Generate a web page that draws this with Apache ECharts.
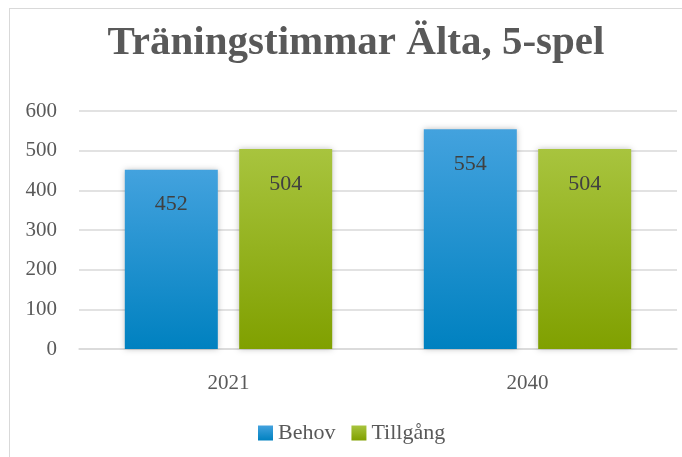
<!DOCTYPE html>
<html>
<head>
<meta charset="utf-8">
<script src="https://cdn.jsdelivr.net/npm/echarts@6/dist/echarts.min.js"></script>
<style>
  html, body { margin: 0; padding: 0; background: #fff; }
  #frame { position: absolute; left: 9px; top: 8px; width: 680px; height: 455px; border: 1px solid #d9d9d9; box-sizing: border-box; }
  #chart { width: 682px; height: 457px; position: absolute; left: 0; top: 0; }
</style>
</head>
<body>
<div id="frame"></div>
<div id="chart"></div>
<script>
// data
const titleText = 'Träningstimmar Älta, 5-spel';
const years = ['2021', '2040'];
const behov = [452, 554];
const tillgang = [504, 504];
const yTicks = [0, 100, 200, 300, 400, 500, 600];

const grad = (top, bottom) => new echarts.graphic.LinearGradient(0, 0, 0, 1, [
    { offset: 0, color: top },
    { offset: 1, color: bottom }
]);

const fontFam = '"Liberation Serif", "DejaVu Serif", serif';

const barLabel = {
    show: true,
    position: 'insideTop',
    distance: 24,
    fontFamily: fontFam,
    fontSize: 22,
    color: '#404040'
};

const chart = echarts.init(document.getElementById('chart'));
const option = {
    animation: false,
    title: {
        text: titleText,
        left: 351,
        textAlign: 'center',
        top: 18,
        textStyle: {
            fontFamily: fontFam,
            fontSize: 41,
            fontWeight: 'bold',
            color: '#595959'
        }
    },
    grid: {
        left: 79,
        right: 5,
        top: 111,
        bottom: 108,
        containLabel: false
    },
    legend: {
        data: ['Behov', 'Tillgång'],
        top: 417,
        left: 253,
        itemWidth: 15,
        itemHeight: 15,
        itemGap: 16,
        itemTextGap: 4,
        icon: 'rect',
        textStyle: {
            fontFamily: fontFam,
            fontSize: 22,
            color: '#595959'
        }
    },
    xAxis: {
        type: 'category',
        data: years,
        axisTick: { show: false },
        axisLine: { lineStyle: { color: '#d9d9d9', width: 1.5 } },
        axisLabel: {
            fontFamily: fontFam,
            fontSize: 21,
            color: '#595959',
            margin: 24
        }
    },
    yAxis: {
        type: 'value',
        min: yTicks[0],
        max: yTicks[yTicks.length - 1],
        interval: 100,
        axisLine: { show: false },
        axisTick: { show: false },
        splitLine: { lineStyle: { color: '#d9d9d9', width: 1.5 } },
        axisLabel: {
            fontFamily: fontFam,
            fontSize: 21,
            color: '#595959',
            margin: 22,
            padding: [5, 0, 0, 0]
        }
    },
    series: [
        {
            name: 'Behov',
            type: 'bar',
            data: behov,
            barWidth: 93,
            barGap: '23%',
            itemStyle: {
                color: grad('#43a2de', '#0081c0'),
                shadowColor: 'rgba(0,0,0,0.25)',
                shadowBlur: 6
            },
            label: barLabel
        },
        {
            name: 'Tillgång',
            type: 'bar',
            data: tillgang,
            barWidth: 93,
            itemStyle: {
                color: grad('#a8c43e', '#80a000'),
                shadowColor: 'rgba(0,0,0,0.25)',
                shadowBlur: 6
            },
            label: barLabel
        }
    ]
};
chart.setOption(option);
</script>
</body>
</html>
